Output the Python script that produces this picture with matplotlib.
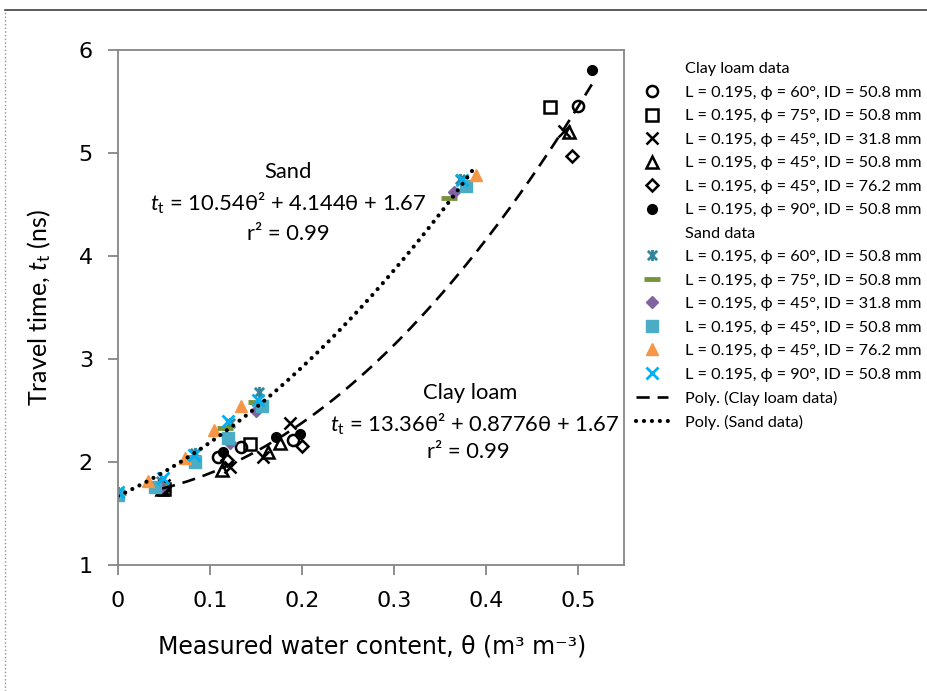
# Travel time vs measured water content, clay loam and sand, with quadratic trendlines
import numpy as np
import matplotlib.pyplot as plt
from matplotlib.path import Path
from matplotlib.lines import Line2D

plt.rcParams['font.family'] = ['Lato', 'DejaVu Sans']
plt.rcParams['mathtext.fontset'] = 'custom'
plt.rcParams['mathtext.rm'] = 'Lato'
plt.rcParams['mathtext.it'] = 'Lato:italic'

# DATA
# clay loam series
clay_60_x = [0.049, 0.109, 0.134, 0.190, 0.500]
clay_60_y = [1.76, 2.05, 2.15, 2.21, 5.46]
clay_75_x = [0.050, 0.143, 0.470]
clay_75_y = [1.74, 2.17, 5.45]
clay_45a_x = [0.050, 0.122, 0.158, 0.187, 0.485]
clay_45a_y = [1.78, 1.95, 2.05, 2.38, 5.21]
clay_45b_x = [0.048, 0.113, 0.163, 0.176, 0.490]
clay_45b_y = [1.74, 1.92, 2.10, 2.18, 5.20]
clay_45c_x = [0.050, 0.119, 0.200, 0.494]
clay_45c_y = [1.76, 2.02, 2.16, 4.97]
clay_90_x = [0.050, 0.114, 0.172, 0.198, 0.515]
clay_90_y = [1.75, 2.10, 2.24, 2.27, 5.81]

# sand series
sand_60_x = [0.0, 0.047, 0.084, 0.122, 0.153, 0.372]
sand_60_y = [1.71, 1.82, 2.09, 2.38, 2.68, 4.75]
sand_75_x = [0.0, 0.046, 0.082, 0.116, 0.150, 0.360]
sand_75_y = [1.70, 1.78, 2.05, 2.33, 2.58, 4.56]
sand_45a_x = [0.0, 0.047, 0.083, 0.122, 0.150, 0.365]
sand_45a_y = [1.69, 1.76, 2.01, 2.18, 2.50, 4.62]
sand_45b_x = [0.0, 0.040, 0.084, 0.120, 0.156, 0.378]
sand_45b_y = [1.68, 1.76, 2.00, 2.23, 2.54, 4.68]
sand_45c_x = [0.033, 0.073, 0.104, 0.134, 0.389]
sand_45c_y = [1.82, 2.04, 2.31, 2.54, 4.79]
sand_90_x = [0.0, 0.049, 0.083, 0.120, 0.152, 0.374]
sand_90_y = [1.71, 1.84, 2.07, 2.40, 2.60, 4.74]

# trendline coefficients printed on the chart
clay_coef = [13.36, 0.8776, 1.67]
sand_coef = [10.54, 4.144, 1.67]

labels_clay = ['L = 0.195, ϕ = 60°, ID = 50.8 mm',
               'L = 0.195, ϕ = 75°, ID = 50.8 mm',
               'L = 0.195, ϕ = 45°, ID = 31.8 mm',
               'L = 0.195, ϕ = 45°, ID = 50.8 mm',
               'L = 0.195, ϕ = 45°, ID = 76.2 mm',
               'L = 0.195, ϕ = 90°, ID = 50.8 mm']
labels_sand = labels_clay

# asterisk marker (x plus vertical bar), like Excel's '*'
asterisk = Path([(-1, -1), (1, 1), (-1, 1), (1, -1), (0, -1.2), (0, 1.2)],
                [Path.MOVETO, Path.LINETO, Path.MOVETO, Path.LINETO,
                 Path.MOVETO, Path.LINETO])

# FIGURE
fig = plt.figure(figsize=(9.28, 6.91), dpi=100)
ax = fig.add_axes([118/928, 1-565/691, (624-118)/928, (565-50)/691])

# clay loam markers (black, hollow)
clay_styles = [
    (clay_60_x, clay_60_y, dict(marker='o', ms=8, mfc='none', mec='black', mew=1.8)),
    (clay_75_x, clay_75_y, dict(marker='s', ms=8.5, mfc='none', mec='black', mew=1.8)),
    (clay_45a_x, clay_45a_y, dict(marker='x', ms=8, mec='black', mew=1.8)),
    (clay_45b_x, clay_45b_y, dict(marker='^', ms=8.5, mfc='none', mec='black', mew=1.8)),
    (clay_45c_x, clay_45c_y, dict(marker='D', ms=6.5, mfc='none', mec='black', mew=1.8)),
    (clay_90_x, clay_90_y, dict(marker='o', ms=7, mfc='black', mec='black', mew=1)),
]
sand_styles = [
    (sand_60_x, sand_60_y, dict(marker=asterisk, ms=8, mec='#31859C', mew=2)),
    (sand_75_x, sand_75_y, dict(marker='_', ms=11, mec='#77933C', mew=3.5)),
    (sand_45a_x, sand_45a_y, dict(marker='D', ms=6.5, mfc='#8064A2', mec='#8064A2', mew=1)),
    (sand_45b_x, sand_45b_y, dict(marker='s', ms=8, mfc='#4BACC6', mec='#4BACC6', mew=1)),
    (sand_45c_x, sand_45c_y, dict(marker='^', ms=9, mfc='#F79646', mec='#F79646', mew=1)),
    (sand_90_x, sand_90_y, dict(marker='x', ms=8, mec='#00B0F0', mew=2)),
]

handles = [Line2D([], [], linestyle='none')]
labels = ['Clay loam data']
for (xs, ys, st), lab in zip(clay_styles, labels_clay):
    h, = ax.plot(xs, ys, linestyle='none', **st)
    handles.append(h)
    labels.append(lab)
handles.append(Line2D([], [], linestyle='none'))
labels.append('Sand data')
for (xs, ys, st), lab in zip(sand_styles, labels_sand):
    h, = ax.plot(xs, ys, linestyle='none', **st)
    handles.append(h)
    labels.append(lab)

# trendlines over the range of each data set
clay_all_x = clay_60_x + clay_75_x + clay_45a_x + clay_45b_x + clay_45c_x + clay_90_x
sand_all_x = sand_60_x + sand_75_x + sand_45a_x + sand_45b_x + sand_45c_x + sand_90_x
xc = np.linspace(min(clay_all_x), max(clay_all_x), 200)
xs_ = np.linspace(min(sand_all_x), max(sand_all_x), 200)
hc, = ax.plot(xc, np.polyval(clay_coef, xc), color='black', lw=1.9,
              dashes=(5, 3))
hs, = ax.plot(xs_, np.polyval(sand_coef, xs_), color='black', lw=3.0,
              linestyle=(0, (0.01, 1.9)), dash_capstyle='round')
handles += [hc, hs]
labels += ['Poly. (Clay loam data)', 'Poly. (Sand data)']

# axes
ax.set_xlim(0, 0.55)
ax.set_ylim(1, 6)
ax.set_xticks([0, 0.1, 0.2, 0.3, 0.4, 0.5])
ax.set_xticklabels(['0', '0.1', '0.2', '0.3', '0.4', '0.5'])
ax.set_yticks([1, 2, 3, 4, 5, 6])
for sp in ax.spines.values():
    sp.set_color('#868686')
    sp.set_linewidth(1.3)
ax.tick_params(direction='out', length=7, width=1.3, color='#868686',
               labelsize=16)
ax.tick_params(axis='y', pad=11)
ax.tick_params(axis='x', pad=12)
for t in ax.get_xticklabels() + ax.get_yticklabels():
    t.set_family('DejaVu Sans')

ax.set_xlabel('Measured water content, θ (m³ m⁻³)', fontsize=17,
              family='DejaVu Sans')
ax.set_ylabel(r'Travel time, $t_\mathrm{t}$ (ns)', fontsize=18)
ax.xaxis.set_label_coords(0.502, -0.135)
ax.yaxis.set_label_coords(-0.128, 0.5)

# equations
eq_fs = 15.8
ax.text(0.185, 4.82, 'Sand', fontsize=eq_fs, ha='center', va='center')
ax.text(0.185, 4.51, r'$t_\mathrm{t}$ = 10.54θ² + 4.144θ + 1.67', fontsize=eq_fs,
        ha='center', va='center')
ax.text(0.185, 4.21, 'r² = 0.99', fontsize=eq_fs, ha='center', va='center')
ax.text(0.383, 2.67, 'Clay loam', fontsize=eq_fs, ha='center', va='center')
ax.text(0.388, 2.37, r'$t_\mathrm{t}$ = 13.36θ² + 0.8776θ + 1.67', fontsize=eq_fs,
        ha='center', va='center')
ax.text(0.381, 2.10, 'r² = 0.99', fontsize=eq_fs, ha='center', va='center')

# legend
fig.legend(handles, labels, loc='upper left',
           bbox_to_anchor=(636/928, 1-62/691), frameon=False, fontsize=11.7,
           labelspacing=0.56, handlelength=2.0, handletextpad=1.0,
           borderpad=0, borderaxespad=0)

# chart border pieces
fig.add_artist(Line2D([5/928, 1], [1-10/691, 1-10/691], color='#404040', lw=1.2))
fig.add_artist(Line2D([5/928, 5/928], [0, 1-10/691], color='#909090', lw=1,
                      linestyle=':'))

fig.savefig('out.png', dpi=100)
